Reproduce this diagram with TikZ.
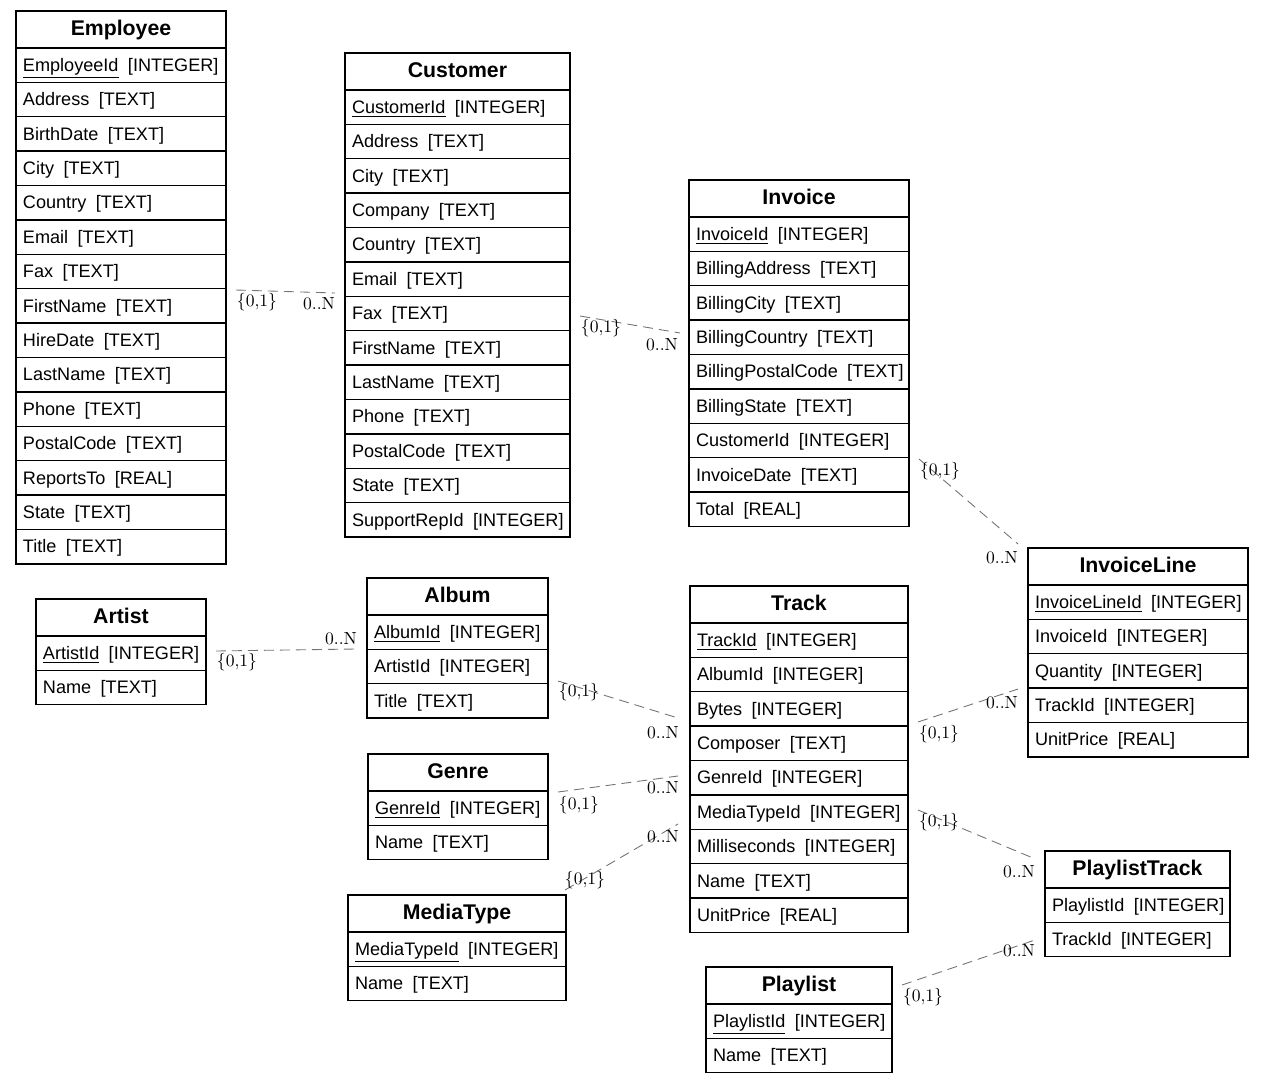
\documentclass[tikz,border=0pt]{standalone}
\usepackage{fontspec}
\newfontfamily\tabfont{Liberation Sans}
\newcommand{\attr}[2]{#1\hspace{0.52em}[#2]}
\tikzset{
  tblhead/.style={draw, line width=0.8pt, outer sep=0pt, minimum height=0.74cm, inner xsep=0.14cm, inner ysep=0pt,
    text height=0.9em, text depth=0.2em, align=center, font=\tabfont\fontsize{12.1}{14}\selectfont\bfseries},
  tblrow/.style={draw, line width=0.8pt, outer sep=0pt, minimum height=0.688cm, inner xsep=0.14cm, inner ysep=0pt,
    text height=0.9em, text depth=0.2em, align=left, font=\tabfont\fontsize{10.3}{12}\selectfont},
  rel/.style={draw=black!55, line width=0.5pt, dash pattern=on 0.2cm off 0.12cm},
  card/.style={inner sep=0pt, font=\fontsize{10}{12}\selectfont}
}
% name, top left (px), width (cm), title, rows
\newcommand{\enttable}[5]{%
  \pgfmathsetmacro\tw{#3-0.28}
  \node[tblhead, text width=\tw cm, anchor=north west, alias=#1] (#1-0) at #2 {#4};
  \foreach \row [count=\i, remember=\i as \last (initially 0)] in {#5} {
    \node[tblrow, text width=\tw cm, anchor=north west] (#1-\i) at (#1-\last.south west) {\mbox{\row}};
  }%
}
\begin{document}
\begin{tikzpicture}[x=0.02cm, y=-0.02cm]
  \useasboundingbox (0,0) rectangle (1264,1085);

  \enttable{employee}{(16,11)}{4.2}{Employee}{\underline{EmployeeId}\hspace{0.52em}[INTEGER], \attr{Address}{TEXT},
    \attr{BirthDate}{TEXT}, \attr{City}{TEXT}, \attr{Country}{TEXT}, \attr{Email}{TEXT}, \attr{Fax}{TEXT},
    \attr{FirstName}{TEXT}, \attr{HireDate}{TEXT}, \attr{LastName}{TEXT}, \attr{Phone}{TEXT},
    \attr{PostalCode}{TEXT}, \attr{ReportsTo}{REAL}, \attr{State}{TEXT}, \attr{Title}{TEXT}}
  \enttable{customer}{(345,53)}{4.5}{Customer}{\underline{CustomerId}\hspace{0.52em}[INTEGER], \attr{Address}{TEXT},
    \attr{City}{TEXT}, \attr{Company}{TEXT}, \attr{Country}{TEXT}, \attr{Email}{TEXT}, \attr{Fax}{TEXT},
    \attr{FirstName}{TEXT}, \attr{LastName}{TEXT}, \attr{Phone}{TEXT}, \attr{PostalCode}{TEXT},
    \attr{State}{TEXT}, \attr{SupportRepId}{INTEGER}}
  \enttable{invoice}{(689,180)}{4.4}{Invoice}{\underline{InvoiceId}\hspace{0.52em}[INTEGER], \attr{BillingAddress}{TEXT},
    \attr{BillingCity}{TEXT}, \attr{BillingCountry}{TEXT}, \attr{BillingPostalCode}{TEXT},
    \attr{BillingState}{TEXT}, \attr{CustomerId}{INTEGER}, \attr{InvoiceDate}{TEXT}, \attr{Total}{REAL}}
  \enttable{invoiceline}{(1028,548)}{4.4}{InvoiceLine}{\underline{InvoiceLineId}\hspace{0.52em}[INTEGER],
    \attr{InvoiceId}{INTEGER}, \attr{Quantity}{INTEGER}, \attr{TrackId}{INTEGER}, \attr{UnitPrice}{REAL}}
  \enttable{artist}{(36,599)}{3.4}{Artist}{\underline{ArtistId}\hspace{0.52em}[INTEGER], \attr{Name}{TEXT}}
  \enttable{album}{(367,578)}{3.62}{Album}{\underline{AlbumId}\hspace{0.52em}[INTEGER], \attr{ArtistId}{INTEGER},
    \attr{Title}{TEXT}}
  \enttable{track}{(690,586)}{4.36}{Track}{\underline{TrackId}\hspace{0.52em}[INTEGER], \attr{AlbumId}{INTEGER},
    \attr{Bytes}{INTEGER}, \attr{Composer}{TEXT}, \attr{GenreId}{INTEGER}, \attr{MediaTypeId}{INTEGER},
    \attr{Milliseconds}{INTEGER}, \attr{Name}{TEXT}, \attr{UnitPrice}{REAL}}
  \enttable{genre}{(368,754)}{3.6}{Genre}{\underline{GenreId}\hspace{0.52em}[INTEGER], \attr{Name}{TEXT}}
  \enttable{mediatype}{(348,895)}{4.36}{MediaType}{\underline{MediaTypeId}\hspace{0.52em}[INTEGER], \attr{Name}{TEXT}}
  \enttable{playlisttrack}{(1045,851)}{3.7}{PlaylistTrack}{\attr{PlaylistId}{INTEGER}, \attr{TrackId}{INTEGER}}
  \enttable{playlist}{(706,967)}{3.72}{Playlist}{\underline{PlaylistId}\hspace{0.52em}[INTEGER], \attr{Name}{TEXT}}

  % relationship ends
  \coordinate (emp-cus-a) at (236,290);  \coordinate (emp-cus-b) at (335,293);
  \coordinate (cus-inv-a) at (580,316);  \coordinate (cus-inv-b) at (680,333);
  \coordinate (inv-line-a) at (919,459); \coordinate (inv-line-b) at (1018,544);
  \coordinate (art-alb-a) at (216,651);  \coordinate (art-alb-b) at (356,649);
  \coordinate (alb-trk-a) at (558,681);  \coordinate (alb-trk-b) at (678,718);
  \coordinate (gen-trk-a) at (558,792);  \coordinate (gen-trk-b) at (678,776);
  \coordinate (med-trk-a) at (565,890);  \coordinate (med-trk-b) at (678,824);
  \coordinate (trk-line-a) at (918,722); \coordinate (trk-line-b) at (1018,689);
  \coordinate (trk-pt-a) at (918,810);   \coordinate (trk-pt-b) at (1033,858);
  \coordinate (pl-pt-a) at (902,985);    \coordinate (pl-pt-b) at (1035,940);

  \draw[rel] (emp-cus-a) -- (emp-cus-b);
  \draw[rel] (cus-inv-a) -- (cus-inv-b);
  \draw[rel] (inv-line-a) -- (inv-line-b);
  \draw[rel] (art-alb-a) -- (art-alb-b);
  \draw[rel] (alb-trk-a) -- (alb-trk-b);
  \draw[rel] (gen-trk-a) -- (gen-trk-b);
  \draw[rel] (med-trk-a) -- (med-trk-b);
  \draw[rel] (trk-line-a) -- (trk-line-b);
  \draw[rel] (trk-pt-a) -- (trk-pt-b);
  \draw[rel] (pl-pt-a) -- (pl-pt-b);

  \node[card] (emp-cus-1) at (257,302) {$\{0{,}1\}$};  \node[card] (emp-cus-n) at (319,304) {0..N};
  \node[card] (cus-inv-1) at (601,328) {$\{0{,}1\}$};  \node[card] (cus-inv-n) at (662,345) {0..N};
  \node[card] (inv-line-1) at (940,471) {$\{0{,}1\}$}; \node[card] (inv-line-n) at (1002,558) {0..N};
  \node[card] (art-alb-1) at (237,662) {$\{0{,}1\}$};  \node[card] (art-alb-n) at (341,639) {0..N};
  \node[card] (alb-trk-1) at (579,692) {$\{0{,}1\}$};  \node[card] (alb-trk-n) at (663,733) {0..N};
  \node[card] (gen-trk-1) at (579,805) {$\{0{,}1\}$};  \node[card] (gen-trk-n) at (663,788) {0..N};
  \node[card] (med-trk-1) at (585,880) {$\{0{,}1\}$};  \node[card] (med-trk-n) at (663,837) {0..N};
  \node[card] (trk-line-1) at (939,734) {$\{0{,}1\}$}; \node[card] (trk-line-n) at (1002,703) {0..N};
  \node[card] (trk-pt-1) at (939,822) {$\{0{,}1\}$};   \node[card] (trk-pt-n) at (1019,872) {0..N};
  \node[card] (pl-pt-1) at (923,997) {$\{0{,}1\}$};    \node[card] (pl-pt-n) at (1019,951) {0..N};
\end{tikzpicture}
\end{document}
